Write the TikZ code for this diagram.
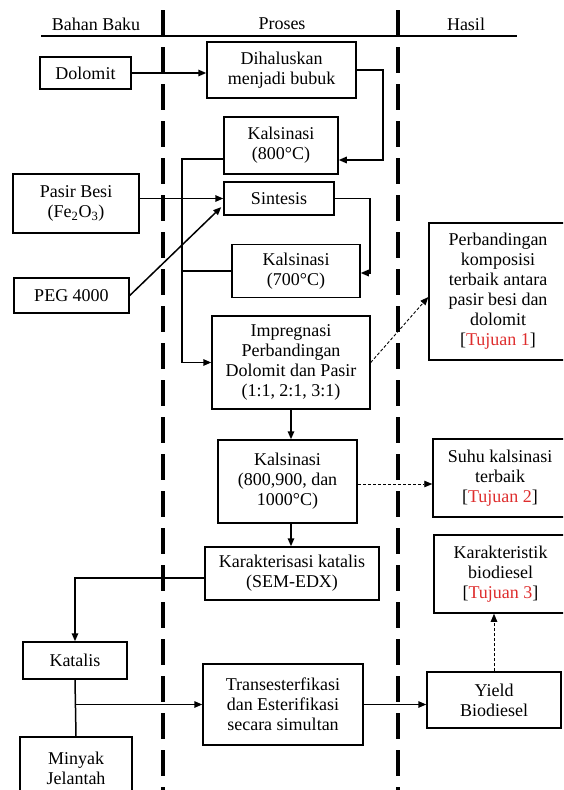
\documentclass[tikz,border=0pt]{standalone}
\usepackage{fontspec}
\setmainfont{Liberation Serif}
\usetikzlibrary{arrows.meta,calc}
\definecolor{tred}{RGB}{222,45,45}
\newcommand{\tuj}[1]{[\textcolor{tred}{Tujuan #1}]}
\begin{document}
\begin{tikzpicture}[x=1pt,y=-1pt,
 box/.style={draw,line width=1.5pt,inner sep=0pt,align=center,font=\fontsize{18}{20}\selectfont},
 arr/.style={line width=1.5pt,-{Triangle[length=8pt,width=6.5pt]}},
 ln/.style={line width=1.5pt},
 darr/.style={line width=0.9pt,dash pattern=on 3pt off 2pt,-{Triangle[length=8pt,width=6.5pt]}},
 sep/.style={line width=3.5pt,dash pattern=on 26pt off 11pt},
 hdr/.style={font=\fontsize{18}{20}\selectfont,inner sep=0pt}]
\useasboundingbox (0,0) rectangle (563,790);
\begin{scope}
\clip (0,0) rectangle (563,790);
% header
\node[hdr] (h1) at (96,24) {Bahan Baku};
\node[hdr] (h2) at (282,24) {Proses};
\node[hdr] (h3) at (466,24) {Hasil};
\draw[line width=1.6pt] (41,36) -- (517,36);
\draw[sep] (163,10) -- (163,800);
\draw[sep] (398,10) -- (398,800);
% nodes
\node[box,minimum width=91pt,minimum height=32pt] (dol) at (85.5,73) {Dolomit};
\node[box,minimum width=149pt,minimum height=56pt] (dih) at (281.5,70) {Dihaluskan\\menjadi bubuk};
\node[box,minimum width=114pt,minimum height=57pt] (k800) at (281,145.5) {Kalsinasi\\(800°C)};
\node[box,minimum width=110pt,minimum height=33pt] (sin) at (279,198.5) {Sintesis};
\node[box,minimum width=126pt,minimum height=59pt] (pasir) at (76,203.5) {Pasir Besi\\(Fe\textsubscript{2}O\textsubscript{3})};
\node[box,minimum width=115pt,minimum height=35pt] (peg) at (71.5,295.5) {PEG 4000};
\node[box,minimum width=128pt,minimum height=53pt] (k700) at (296,271) {Kalsinasi\\(700°C)};
\node[box,minimum width=158pt,minimum height=93pt] (imp) at (291,362.5) {Impregnasi\\Perbandingan\\Dolomit dan Pasir\\(1:1, 2:1, 3:1)};
\node[box,minimum width=138pt,minimum height=137pt] (perb) at (498,291.5) {Perbandingan\\komposisi\\terbaik antara\\pasir besi dan\\dolomit\\\tuj{1}};
\node[box,minimum width=139pt,minimum height=83pt] (k3) at (287.5,481.5) {Kalsinasi\\(800,900, dan\\1000°C)};
\node[box,minimum width=134pt,minimum height=78pt] (suhu) at (500,478) {Suhu kalsinasi\\terbaik\\\tuj{2}};
\node[box,minimum width=174pt,minimum height=53pt] (kar) at (292,573.5) {Karakterisasi katalis\\(SEM-EDX)};
\node[box,minimum width=133pt,minimum height=78pt] (karb) at (500.5,574) {Karakteristik\\biodiesel\\\tuj{3}};
\node[box,minimum width=104pt,minimum height=37pt] (kat) at (75,660.5) {Katalis};
\node[box,minimum width=160pt,minimum height=81pt] (trans) at (283,704.5) {Transesterfikasi\\dan Esterifikasi\\secara simultan};
\node[box,minimum width=134pt,minimum height=56pt] (yield) at (494,700) {Yield\\Biodiesel};
\node[box,minimum width=112pt,minimum height=62pt] (min) at (76,768) {Minyak\\Jelantah};
% connectors
\draw[arr] (dol.east) -- (dih.west |- dol.east);
\draw[arr] (dih.east) -- ++(26,0) |- (k800.east |- 0,160);
\draw[arr] (k800.west |- 0,159) -- (182,159) |- (imp.west);
\draw[ln] (k700.west) -- (182,271);
\draw[arr] (pasir.east |- sin.west) -- (sin.west);
\draw[arr] (peg.east) -- ($(sin.west)!0.5!(sin.south west)+(-2,0)$);
\draw[arr] (sin.east) -- ++(35,0) |- (k700.east |- 0,273);
\draw[darr] (imp.east) -- ($(perb.south west)!0.46!(perb.north west)$);
\draw[arr] (imp.south) -- (imp.south |- k3.north);
\draw[darr] (k3.east |- 0,484) -- (suhu.west |- 0,484);
\draw[arr] (imp.south |- k3.south) -- (imp.south |- kar.north);
\draw[arr] (kar.west |- 0,578) -| (kat.north);
\draw[ln] (kat.south) -- (min.north);
\draw[arr] (kat.south |- trans.west) -- (trans.west);
\draw[arr] (trans.east) -- (yield.west |- trans.east);
\draw[darr] (yield.north) -- (yield.north |- karb.south);
\end{scope}
\end{tikzpicture}
\end{document}
